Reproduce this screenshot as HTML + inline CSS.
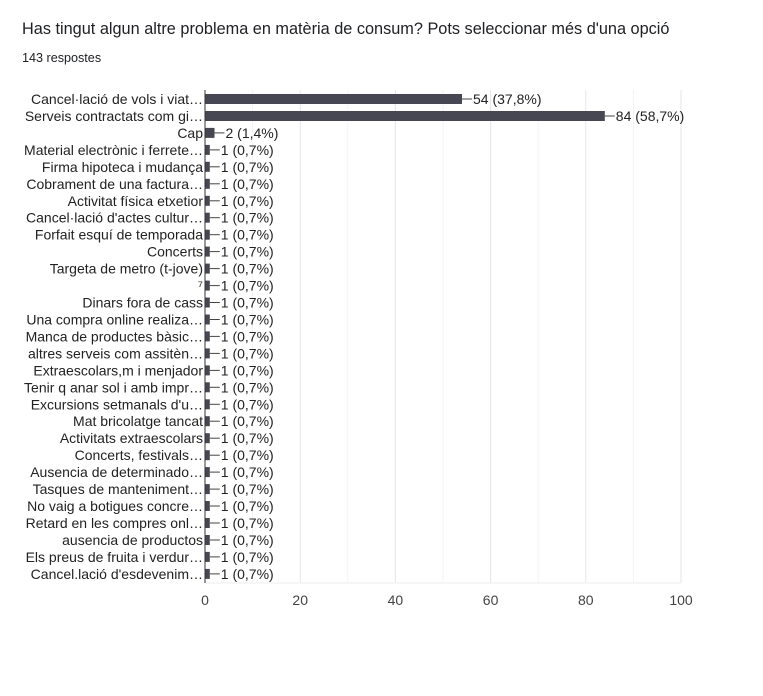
<!DOCTYPE html>
<html><head><meta charset="utf-8"><style>
body{margin:0;background:#fff;width:763px;height:691px;overflow:hidden}
</style></head><body>
<svg width="763" height="691" xmlns="http://www.w3.org/2000/svg" font-family="Liberation Sans, Arial, sans-serif">
<text x="22" y="34" font-size="16.3" fill="#202124">Has tingut algun altre problema en matèria de consum? Pots seleccionar més d'una opció</text>
<text x="22" y="62" font-size="12.6" fill="#202124">143 respostes</text>
<g stroke-width="1">
<line x1="252.6" y1="90" x2="252.6" y2="583" stroke="#f3f3f3"/>
<line x1="300.2" y1="90" x2="300.2" y2="583" stroke="#e6e6e6"/>
<line x1="347.8" y1="90" x2="347.8" y2="583" stroke="#f3f3f3"/>
<line x1="395.4" y1="90" x2="395.4" y2="583" stroke="#e6e6e6"/>
<line x1="443" y1="90" x2="443" y2="583" stroke="#f3f3f3"/>
<line x1="490.6" y1="90" x2="490.6" y2="583" stroke="#e6e6e6"/>
<line x1="538.2" y1="90" x2="538.2" y2="583" stroke="#f3f3f3"/>
<line x1="585.8" y1="90" x2="585.8" y2="583" stroke="#e6e6e6"/>
<line x1="633.4" y1="90" x2="633.4" y2="583" stroke="#f3f3f3"/>
<line x1="681" y1="90" x2="681" y2="583" stroke="#e6e6e6"/>
<line x1="205" y1="583" x2="681" y2="583" stroke="#eeeeee"/>
</g>
<g font-size="14" fill="#222">
<g transform="translate(0,99)"><rect x="205" y="-5" width="257" height="10" fill="#474753"/><line x1="462" y1="0" x2="472" y2="0" stroke="#444"/><text x="473" y="5">54 (37,8%)</text><text x="203" y="5" text-anchor="end">Cancel·lació de vols i viat…</text></g>
<g transform="translate(0,116)"><rect x="205" y="-5" width="399.8" height="10" fill="#474753"/><line x1="604.8" y1="0" x2="614.8" y2="0" stroke="#444"/><text x="615.8" y="5">84 (58,7%)</text><text x="203" y="5" text-anchor="end">Serveis contractats com gi…</text></g>
<g transform="translate(0,132.9)"><rect x="205" y="-5" width="9.5" height="10" fill="#474753"/><line x1="214.5" y1="0" x2="224.5" y2="0" stroke="#444"/><text x="225.5" y="5">2 (1,4%)</text><text x="203" y="5" text-anchor="end">Cap</text></g>
<g transform="translate(0,149.9)"><rect x="205" y="-5" width="4.8" height="10" fill="#474753"/><line x1="209.8" y1="0" x2="219.8" y2="0" stroke="#444"/><text x="220.8" y="5">1 (0,7%)</text><text x="203" y="5" text-anchor="end">Material electrònic i ferrete…</text></g>
<g transform="translate(0,166.8)"><rect x="205" y="-5" width="4.8" height="10" fill="#474753"/><line x1="209.8" y1="0" x2="219.8" y2="0" stroke="#444"/><text x="220.8" y="5">1 (0,7%)</text><text x="203" y="5" text-anchor="end">Firma hipoteca i mudança</text></g>
<g transform="translate(0,183.8)"><rect x="205" y="-5" width="4.8" height="10" fill="#474753"/><line x1="209.8" y1="0" x2="219.8" y2="0" stroke="#444"/><text x="220.8" y="5">1 (0,7%)</text><text x="203" y="5" text-anchor="end">Cobrament de una factura…</text></g>
<g transform="translate(0,200.8)"><rect x="205" y="-5" width="4.8" height="10" fill="#474753"/><line x1="209.8" y1="0" x2="219.8" y2="0" stroke="#444"/><text x="220.8" y="5">1 (0,7%)</text><text x="203" y="5" text-anchor="end">Activitat física etxetior</text></g>
<g transform="translate(0,217.7)"><rect x="205" y="-5" width="4.8" height="10" fill="#474753"/><line x1="209.8" y1="0" x2="219.8" y2="0" stroke="#444"/><text x="220.8" y="5">1 (0,7%)</text><text x="203" y="5" text-anchor="end">Cancel·lació d'actes cultur…</text></g>
<g transform="translate(0,234.7)"><rect x="205" y="-5" width="4.8" height="10" fill="#474753"/><line x1="209.8" y1="0" x2="219.8" y2="0" stroke="#444"/><text x="220.8" y="5">1 (0,7%)</text><text x="203" y="5" text-anchor="end">Forfait esquí de temporada</text></g>
<g transform="translate(0,251.6)"><rect x="205" y="-5" width="4.8" height="10" fill="#474753"/><line x1="209.8" y1="0" x2="219.8" y2="0" stroke="#444"/><text x="220.8" y="5">1 (0,7%)</text><text x="203" y="5" text-anchor="end">Concerts</text></g>
<g transform="translate(0,268.6)"><rect x="205" y="-5" width="4.8" height="10" fill="#474753"/><line x1="209.8" y1="0" x2="219.8" y2="0" stroke="#444"/><text x="220.8" y="5">1 (0,7%)</text><text x="203" y="5" text-anchor="end">Targeta de metro (t-jove)</text></g>
<g transform="translate(0,285.6)"><rect x="205" y="-5" width="4.8" height="10" fill="#474753"/><line x1="209.8" y1="0" x2="219.8" y2="0" stroke="#444"/><text x="220.8" y="5">1 (0,7%)</text><text x="203" y="5" text-anchor="end">⁷</text></g>
<g transform="translate(0,302.5)"><rect x="205" y="-5" width="4.8" height="10" fill="#474753"/><line x1="209.8" y1="0" x2="219.8" y2="0" stroke="#444"/><text x="220.8" y="5">1 (0,7%)</text><text x="203" y="5" text-anchor="end">Dinars fora de cass</text></g>
<g transform="translate(0,319.5)"><rect x="205" y="-5" width="4.8" height="10" fill="#474753"/><line x1="209.8" y1="0" x2="219.8" y2="0" stroke="#444"/><text x="220.8" y="5">1 (0,7%)</text><text x="203" y="5" text-anchor="end">Una compra online realiza…</text></g>
<g transform="translate(0,336.4)"><rect x="205" y="-5" width="4.8" height="10" fill="#474753"/><line x1="209.8" y1="0" x2="219.8" y2="0" stroke="#444"/><text x="220.8" y="5">1 (0,7%)</text><text x="203" y="5" text-anchor="end">Manca de productes bàsic…</text></g>
<g transform="translate(0,353.4)"><rect x="205" y="-5" width="4.8" height="10" fill="#474753"/><line x1="209.8" y1="0" x2="219.8" y2="0" stroke="#444"/><text x="220.8" y="5">1 (0,7%)</text><text x="203" y="5" text-anchor="end">altres serveis com assitèn…</text></g>
<g transform="translate(0,370.4)"><rect x="205" y="-5" width="4.8" height="10" fill="#474753"/><line x1="209.8" y1="0" x2="219.8" y2="0" stroke="#444"/><text x="220.8" y="5">1 (0,7%)</text><text x="203" y="5" text-anchor="end">Extraescolars,m i menjador</text></g>
<g transform="translate(0,387.3)"><rect x="205" y="-5" width="4.8" height="10" fill="#474753"/><line x1="209.8" y1="0" x2="219.8" y2="0" stroke="#444"/><text x="220.8" y="5">1 (0,7%)</text><text x="203" y="5" text-anchor="end">Tenir q anar sol i amb impr…</text></g>
<g transform="translate(0,404.3)"><rect x="205" y="-5" width="4.8" height="10" fill="#474753"/><line x1="209.8" y1="0" x2="219.8" y2="0" stroke="#444"/><text x="220.8" y="5">1 (0,7%)</text><text x="203" y="5" text-anchor="end">Excursions setmanals d'u…</text></g>
<g transform="translate(0,421.2)"><rect x="205" y="-5" width="4.8" height="10" fill="#474753"/><line x1="209.8" y1="0" x2="219.8" y2="0" stroke="#444"/><text x="220.8" y="5">1 (0,7%)</text><text x="203" y="5" text-anchor="end">Mat bricolatge tancat</text></g>
<g transform="translate(0,438.2)"><rect x="205" y="-5" width="4.8" height="10" fill="#474753"/><line x1="209.8" y1="0" x2="219.8" y2="0" stroke="#444"/><text x="220.8" y="5">1 (0,7%)</text><text x="203" y="5" text-anchor="end">Activitats extraescolars</text></g>
<g transform="translate(0,455.2)"><rect x="205" y="-5" width="4.8" height="10" fill="#474753"/><line x1="209.8" y1="0" x2="219.8" y2="0" stroke="#444"/><text x="220.8" y="5">1 (0,7%)</text><text x="203" y="5" text-anchor="end">Concerts, festivals…</text></g>
<g transform="translate(0,472.1)"><rect x="205" y="-5" width="4.8" height="10" fill="#474753"/><line x1="209.8" y1="0" x2="219.8" y2="0" stroke="#444"/><text x="220.8" y="5">1 (0,7%)</text><text x="203" y="5" text-anchor="end">Ausencia de determinado…</text></g>
<g transform="translate(0,489.1)"><rect x="205" y="-5" width="4.8" height="10" fill="#474753"/><line x1="209.8" y1="0" x2="219.8" y2="0" stroke="#444"/><text x="220.8" y="5">1 (0,7%)</text><text x="203" y="5" text-anchor="end">Tasques de manteniment…</text></g>
<g transform="translate(0,506)"><rect x="205" y="-5" width="4.8" height="10" fill="#474753"/><line x1="209.8" y1="0" x2="219.8" y2="0" stroke="#444"/><text x="220.8" y="5">1 (0,7%)</text><text x="203" y="5" text-anchor="end">No vaig a botigues concre…</text></g>
<g transform="translate(0,523)"><rect x="205" y="-5" width="4.8" height="10" fill="#474753"/><line x1="209.8" y1="0" x2="219.8" y2="0" stroke="#444"/><text x="220.8" y="5">1 (0,7%)</text><text x="203" y="5" text-anchor="end">Retard en les compres onl…</text></g>
<g transform="translate(0,540)"><rect x="205" y="-5" width="4.8" height="10" fill="#474753"/><line x1="209.8" y1="0" x2="219.8" y2="0" stroke="#444"/><text x="220.8" y="5">1 (0,7%)</text><text x="203" y="5" text-anchor="end">ausencia de productos</text></g>
<g transform="translate(0,556.9)"><rect x="205" y="-5" width="4.8" height="10" fill="#474753"/><line x1="209.8" y1="0" x2="219.8" y2="0" stroke="#444"/><text x="220.8" y="5">1 (0,7%)</text><text x="203" y="5" text-anchor="end">Els preus de fruita i verdur…</text></g>
<g transform="translate(0,573.9)"><rect x="205" y="-5" width="4.8" height="10" fill="#474753"/><line x1="209.8" y1="0" x2="219.8" y2="0" stroke="#444"/><text x="220.8" y="5">1 (0,7%)</text><text x="203" y="5" text-anchor="end">Cancel.lació d'esdevenim…</text></g>
</g>
<line x1="205" y1="90" x2="205" y2="583" stroke="#333" stroke-width="1"/>
<g font-size="14" fill="#444" text-anchor="middle">
<text x="205" y="605">0</text><text x="300.2" y="605">20</text><text x="395.4" y="605">40</text><text x="490.6" y="605">60</text><text x="585.8" y="605">80</text><text x="681" y="605">100</text>
</g>
</svg>
</body></html>
